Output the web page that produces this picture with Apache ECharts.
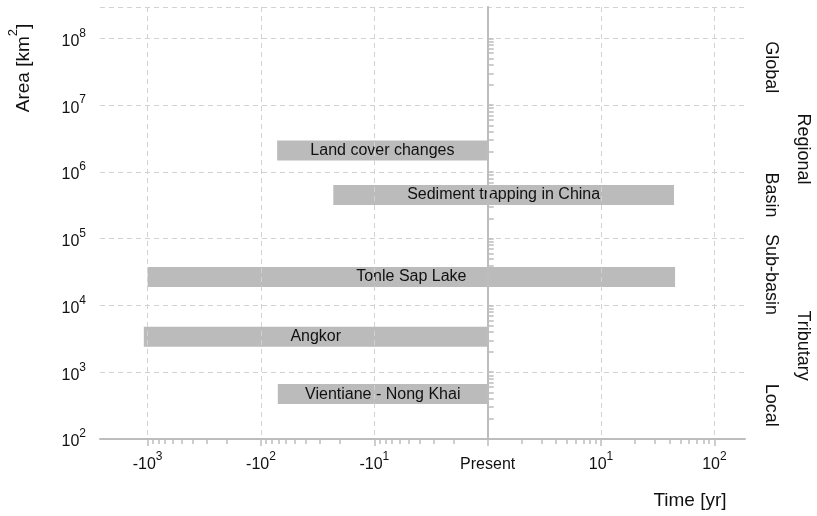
<!DOCTYPE html>
<html><head><meta charset="utf-8">
<script src="https://cdn.jsdelivr.net/npm/echarts@6/dist/echarts.min.js"></script>
<style>html,body{margin:0;padding:0;background:#fff}#c{width:817px;height:516px}</style>
</head><body><div id="c"></div>
<script>
// ---- data ----
const barNames = ['Land cover changes', 'Sediment trapping in China', 'Tonle Sap Lake', 'Angkor', 'Vientiane - Nong Khai'];
const barStartYears = [-72, -23, -1000, -1080, -71];
const barEndYears = [0, 44, 45, 0, 0];
const barAreas = [2.1e6, 4.5e5, 2.66e4, 3.4e3, 4.7e2];

const xTickValues = [-1000, -100, -10, 0, 10, 100];
const xTickBase = ['-10', '-10', '-10', 'Present', '10', '10'];
const xTickExp = ['3', '2', '1', '', '1', '2'];
const xMinorMantissas = [2, 3, 4, 5, 6, 7, 8, 9];
const xMinorDecadesNeg = [1, 10, 100];
const xMinorDecadesPos = [1, 10];

const yTickValues = [1e2, 1e3, 1e4, 1e5, 1e6, 1e7, 1e8];
const yTickExp = ['2', '3', '4', '5', '6', '7', '8'];
const yMinorDecades = [1e2, 1e3, 1e4, 1e5, 1e6, 1e7];

const scaleNames = ['Global', 'Regional', 'Basin', 'Sub-basin', 'Tributary', 'Local'];
const scaleAreas = [3.7e7, 2.2e6, 4.5e5, 2.9e4, 2.5e3, 3.2e2];
const scaleColumn = [0, 1, 0, 0, 1, 0];

// ---- scale transforms (symlog time, log area) ----
const tx = v => v === 0 ? 0 : Math.sign(v) * Math.max(0, Math.log10(Math.abs(v)));
const ty = v => Math.log10(v);

const FONT = '"Liberation Sans", Arial, Helvetica, sans-serif';
const AXC = '#bdbdbd';
const GRIDC = '#d2d2d2';
const TXT = '#111111';

const xMajor = xTickValues.map(tx);
const xMinor = [];
xMinorDecadesNeg.forEach(d => xMinorMantissas.forEach(m => xMinor.push(tx(-m * d))));
xMinorDecadesPos.forEach(d => xMinorMantissas.forEach(m => xMinor.push(tx(m * d))));
const yMajor = yTickValues.map(ty);
const yTicksAll = yMajor.slice();
yMinorDecades.forEach(d => xMinorMantissas.forEach(m => yTicksAll.push(ty(m * d))));

const xLabelMap = {};
xMajor.forEach((v, i) => { xLabelMap[v.toFixed(3)] = i; });
const yLabelMap = {};
yMajor.forEach((v, i) => { yLabelMap[v.toFixed(3)] = i; });

const richSup = {
  b: { fontSize: 16, fontFamily: FONT, color: TXT, lineHeight: 22, verticalAlign: 'bottom' },
  s: { fontSize: 12, fontFamily: FONT, color: TXT, lineHeight: 22, verticalAlign: 'top' }
};

const XMIN = -3.42, XMAX = 2.27, YMIN = 2, YMAX = 8.47;

const chart = echarts.init(document.getElementById('c'), null, { renderer: 'canvas' });

const barData = barNames.map((n, i) => [tx(barStartYears[i]), tx(barEndYears[i]), ty(barAreas[i]), n]);

chart.setOption({
  animation: false,
  backgroundColor: '#fff',
  grid: { left: 100, right: 72, top: 7, bottom: 77, containLabel: false },
  xAxis: [{
    type: 'value', min: XMIN, max: XMAX, position: 'bottom', z: 3,
    axisLine: { show: true, onZero: false, lineStyle: { color: AXC, width: 2 } },
    axisTick: { show: true, customValues: xMajor, length: 7, lineStyle: { color: AXC, width: 1.5 } },
    axisLabel: {
      customValues: xMajor, margin: 12,
      formatter: v => {
        const i = xLabelMap[v.toFixed(3)];
        if (i === undefined) return '';
        return xTickExp[i] ? '{b|' + xTickBase[i] + '}{s|' + xTickExp[i] + '}' : '{b|' + xTickBase[i] + '}';
      },
      rich: richSup
    },
    splitLine: { show: true, lineStyle: { color: GRIDC, type: [5, 4], width: 1 } }
  }, {
    type: 'value', min: XMIN, max: XMAX, position: 'bottom', z: 3,
    axisLine: { show: false, onZero: false },
    axisTick: { show: true, customValues: xMinor, length: 5, lineStyle: { color: AXC, width: 1.5 } },
    axisLabel: { show: false },
    splitLine: { show: false }
  }],
  yAxis: [{
    type: 'value', min: YMIN, max: YMAX, interval: 1, position: 'left',
    axisLine: { show: false, onZero: false },
    axisTick: { show: false },
    axisLabel: {
      margin: 14,
      formatter: v => {
        const i = yLabelMap[v.toFixed(3)];
        if (i === undefined) return '';
        return '{b|10}{s|' + yTickExp[i] + '}';
      },
      rich: richSup
    },
    splitLine: { show: true, lineStyle: { color: GRIDC, type: [5, 4], width: 1 } }
  }, {
    type: 'value', min: YMIN, max: YMAX, position: 'left', z: 10,
    axisLine: { show: true, onZero: true, lineStyle: { color: AXC, width: 2 } },
    axisTick: { show: true, inside: true, customValues: yTicksAll, length: 6, lineStyle: { color: AXC, width: 1.5 } },
    axisLabel: { show: false },
    splitLine: { show: false }
  }],
  series: [{
    type: 'custom',
    xAxisIndex: 0, yAxisIndex: 0, z: 2,
    encode: { x: [0, 1], y: 2 },
    data: barData,
    renderItem: (params, api) => {
      const s = api.coord([api.value(0), api.value(2)]);
      const e = api.coord([api.value(1), api.value(2)]);
      const h = 20;
      return {
        type: 'rect',
        shape: { x: s[0], y: s[1] - h / 2, width: e[0] - s[0], height: h },
        style: { fill: '#bbbbbb' },
        textContent: { style: { text: barNames[params.dataIndex], fill: TXT, font: '16px ' + FONT } },
        textConfig: { position: 'inside' }
      };
    }
  }]
});

const graphics = [
  {
    type: 'text', x: 20, y: 68, rotation: Math.PI / 2,
    style: {
      text: '{b|Area [km}{s|2}{b|]}', align: 'center', verticalAlign: 'middle',
      rich: {
        b: { fontSize: 19, fontFamily: FONT, fill: TXT, lineHeight: 26, verticalAlign: 'bottom' },
        s: { fontSize: 13, fontFamily: FONT, fill: TXT, lineHeight: 26, verticalAlign: 'top' }
      }
    }
  },
  {
    type: 'text', x: 690, y: 501,
    style: { text: 'Time [yr]', align: 'center', verticalAlign: 'middle', font: '19px ' + FONT, fill: TXT }
  }
];
const colX = [771, 803];
scaleNames.forEach((n, i) => {
  const p = chart.convertToPixel({ gridIndex: 0 }, [0, ty(scaleAreas[i])]);
  graphics.push({
    type: 'text', x: colX[scaleColumn[i]], y: p[1], rotation: -Math.PI / 2,
    style: { text: n, align: 'center', verticalAlign: 'middle', font: '18px ' + FONT, fill: TXT }
  });
});
chart.setOption({ graphic: graphics });
</script>
</body></html>
